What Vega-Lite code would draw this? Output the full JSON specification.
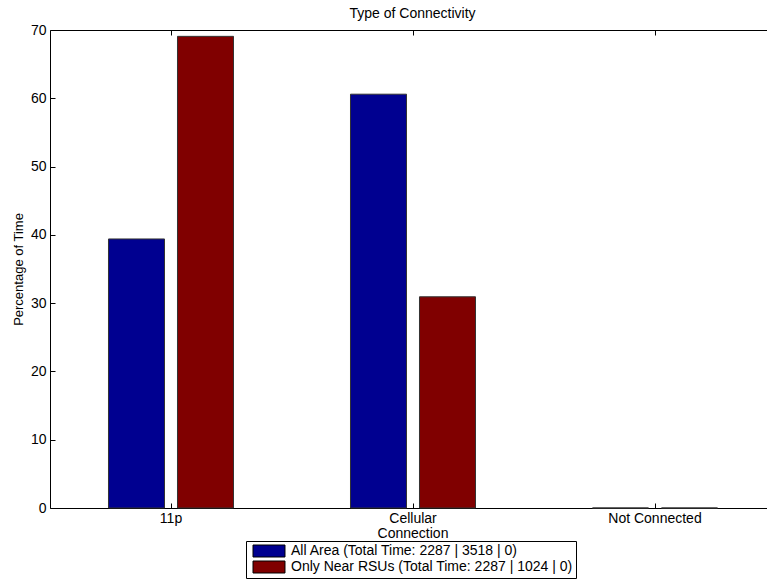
{
  "$schema": "https://vega.github.io/schema/vega-lite/v6.json",
  "width": 717,
  "height": 478,
  "autosize": {"type": "none"},
  "padding": {"left": 50, "top": 30, "right": 0, "bottom": 72},
  "background": "white",
  "config": {"font": "Liberation Sans", "view": {"stroke": null}},
  "title": {"text": "Type of Connectivity", "fontSize": 14, "fontWeight": "normal", "anchor": "middle", "frame": "group", "dx": 4, "offset": 2, "color": "black"},
  "data": {"values": [
    {"category": "11p", "series": "All Area (Total Time: 2287 | 3518 | 0)", "value": 39.40},
    {"category": "11p", "series": "Only Near RSUs (Total Time: 2287 | 1024 | 0)", "value": 69.07},
    {"category": "Cellular Connection", "series": "All Area (Total Time: 2287 | 3518 | 0)", "value": 60.60},
    {"category": "Cellular Connection", "series": "Only Near RSUs (Total Time: 2287 | 1024 | 0)", "value": 30.93},
    {"category": "Not Connected", "series": "All Area (Total Time: 2287 | 3518 | 0)", "value": 0},
    {"category": "Not Connected", "series": "Only Near RSUs (Total Time: 2287 | 1024 | 0)", "value": 0}
  ]},
  "layer": [
    {
      "mark": {"type": "bar", "stroke": "#333333", "strokeWidth": 1},
      "encoding": {
        "x": {"field": "category", "type": "nominal",
          "scale": {"domain": ["11p", "Cellular Connection", "Not Connected"], "range": [0, 726], "paddingInner": 0, "paddingOuter": 0},
          "axis": {"orient": "bottom", "title": null, "labelAngle": 0, "labelFontSize": 14, "labelColor": "black", "labelPadding": 8, "labelLineHeight": 15,
            "labelExpr": "datum.label == 'Cellular Connection' ? ['Cellular', 'Connection'] : datum.label",
            "tickSize": -5, "tickColor": "black", "domainColor": "black", "grid": false}},
        "xOffset": {"field": "series", "type": "nominal", "scale": {"paddingInner": 0.188, "paddingOuter": 0.848}},
        "y": {"field": "value", "type": "quantitative",
          "scale": {"domain": [0, 70], "nice": false},
          "axis": {"title": "Percentage of Time", "titleFontSize": 13, "titleFontWeight": "normal", "titleColor": "black", "titlePadding": 5,
            "values": [0, 10, 20, 30, 40, 50, 60, 70], "labelFontSize": 14, "labelColor": "black", "labelPadding": 9,
            "tickSize": -5, "tickColor": "black", "domainColor": "black", "grid": false}},
        "color": {"field": "series", "type": "nominal",
          "scale": {"domain": ["All Area (Total Time: 2287 | 3518 | 0)", "Only Near RSUs (Total Time: 2287 | 1024 | 0)"], "range": ["#000090", "#800000"]},
          "legend": {"orient": "none", "legendX": 196, "legendY": 511, "direction": "vertical", "title": null,
            "strokeColor": "black", "fillColor": "white", "padding": 3, "cornerRadius": 0,
            "symbolType": "M-0.5,-1h5.333v2h-5.333z", "symbolSize": 144, "symbolStrokeColor": "black", "symbolStrokeWidth": 1, "symbolOpacity": 1,
            "labelFontSize": 14, "labelColor": "black", "labelOffset": 28, "labelLimit": 0, "rowPadding": 0}}
      }
    },
    {
      "mark": {"type": "tick", "opacity": 0},
      "encoding": {
        "x": {"field": "category", "type": "nominal",
          "axis": {"orient": "top", "title": null, "labels": false, "tickSize": -5, "tickColor": "black", "domainColor": "black", "grid": false}}
      }
    }
  ],
  "resolve": {"axis": {"x": "independent"}}
}
